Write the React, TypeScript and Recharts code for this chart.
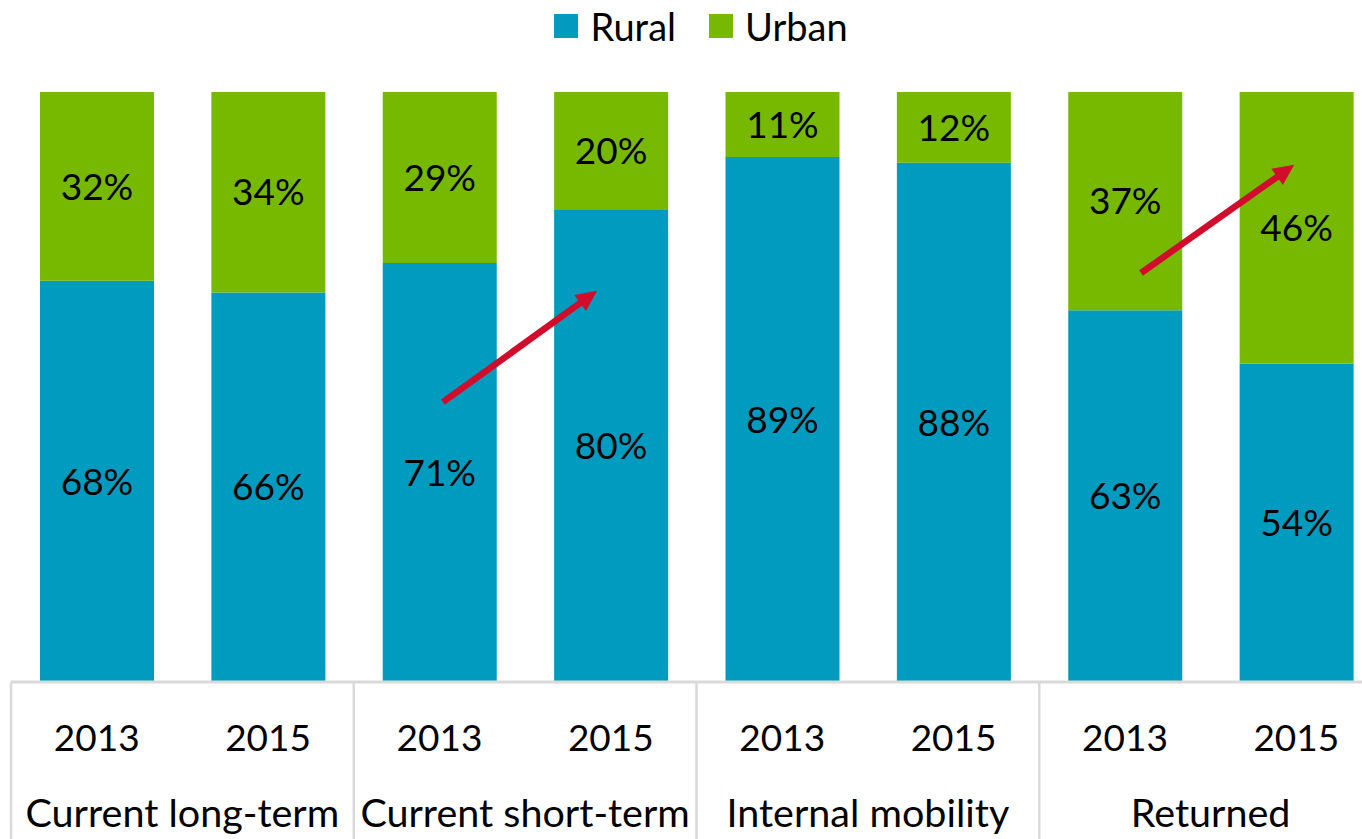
import { BarChart, Bar, XAxis, YAxis, Legend, LabelList, ReferenceLine } from "recharts"

const groups = ["Current long-term", "Current short-term", "Internal mobility", "Returned"]
const years = ["2013", "2015"]
const rural = [68, 66, 71, 80, 89, 88, 63, 54]
const urban = [32, 34, 29, 20, 11, 12, 37, 46]

const data = rural.map((r, i) => ({
  id: `${groups[Math.floor(i / 2)]} ${years[i % 2]}`,
  group: groups[Math.floor(i / 2)],
  year: years[i % 2],
  rural: r,
  urban: urban[i],
}))

// red trend arrows, in data space (category + percent)
const arrows = [
  { from: "Current short-term 2013", to: "Current short-term 2015", fromY: 47, toY: 68, trimStart: 0.02, trimEnd: 0.08 },
  { from: "Returned 2013", to: "Returned 2015", fromY: 67.4, toY: 87.9, trimStart: 0.094, trimEnd: 0.012 },
]

const BLUE = "#009BBE"
const GREEN = "#77B900"
const RED = "#D20C2B"
const GRID = "#D9D9D9"
const FONT = "Lato, 'Open Sans', sans-serif"

const W = 1400
const H = 839
const M = { top: 32, right: 18, left: 11, bottom: 0 }
const XAXIS_H = 157
const AXIS_Y = H - XAXIS_H
const BAND = (W - M.left - M.right) / data.length

function CategoryTick(props: any) {
  const { x, index } = props
  const d = data[index]
  return (
    <g>
      <text x={x} y={AXIS_Y + 69} textAnchor="middle" fontFamily={FONT} fontSize={37} fill="#000">
        {d.year}
      </text>
      {index % 2 === 0 && (
        <>
          <text x={x + BAND / 2} y={AXIS_Y + 145} textAnchor="middle" fontFamily={FONT} fontSize={39.5} fill="#000">
            {d.group}
          </text>
          <line x1={x - BAND / 2} x2={x - BAND / 2} y1={AXIS_Y} y2={H} stroke={GRID} strokeWidth={2.5} />
        </>
      )}
      {index === data.length - 1 && (
        <line x1={x + BAND / 2} x2={x + BAND / 2} y1={AXIS_Y} y2={H} stroke={GRID} strokeWidth={2.5} />
      )}
    </g>
  )
}

function Arrow(props: any) {
  const { x1, y1, x2, y2, trimStart, trimEnd } = props
  const dx = x2 - x1
  const dy = y2 - y1
  const sx = x1 + dx * trimStart
  const sy = y1 + dy * trimStart
  const tx = x1 + dx * (1 - trimEnd)
  const ty = y1 + dy * (1 - trimEnd)
  const len = Math.hypot(tx - sx, ty - sy)
  const ux = (tx - sx) / len
  const uy = (ty - sy) / len
  const head = 21
  const half = 10
  const bx = tx - ux * head
  const by = ty - uy * head
  return (
    <g>
      <line x1={sx} y1={sy} x2={bx + ux * 2} y2={by + uy * 2} stroke={RED} strokeWidth={6.5} />
      <polygon
        points={`${tx},${ty} ${bx - uy * half},${by + ux * half} ${bx + uy * half},${by - ux * half}`}
        fill={RED}
      />
    </g>
  )
}

const legendItems = [
  { label: "Rural", color: BLUE },
  { label: "Urban", color: GREEN },
]

function LegendContent() {
  return (
    <div
      style={{
        display: "flex",
        justifyContent: "center",
        alignItems: "center",
        height: 60,
        paddingLeft: 40,
        fontFamily: FONT,
        fontSize: 38,
        color: "#000",
        boxSizing: "border-box",
      }}
    >
      {legendItems.map((it, i) => (
        <div key={it.label} style={{ display: "flex", alignItems: "center", marginLeft: i ? 33 : 0 }}>
          <span style={{ width: 24, height: 24, background: it.color, display: "inline-block", marginRight: 12 }} />
          <span>{it.label}</span>
        </div>
      ))}
    </div>
  )
}

export default function App() {
  return (
    <div style={{ position: "absolute", left: 0, top: 0, width: 1362, height: H, overflow: "hidden", background: "#fff" }}>
      <BarChart width={W} height={H} data={data} margin={M}>
        <XAxis
          dataKey="id"
          height={XAXIS_H}
          interval={0}
          tickLine={false}
          axisLine={{ stroke: GRID, strokeWidth: 3 }}
          tick={<CategoryTick />}
        />
        <YAxis hide domain={[0, 100]} />
        <Legend
          verticalAlign="top"
          content={<LegendContent />}
          wrapperStyle={{ top: -4, left: 0, width: 1362 }}
        />
        <Bar dataKey="rural" name="Rural" stackId="a" fill={BLUE} barSize={114} isAnimationActive={false}>
          <LabelList dataKey="rural" position="center" formatter={(v: any) => `${v}%`} fill="#000" fontSize={37} fontFamily={FONT} />
        </Bar>
        <Bar dataKey="urban" name="Urban" stackId="a" fill={GREEN} barSize={114} isAnimationActive={false}>
          <LabelList dataKey="urban" position="center" formatter={(v: any) => `${v}%`} fill="#000" fontSize={37} fontFamily={FONT} />
        </Bar>
        {arrows.map((a) => (
          <ReferenceLine
            key={a.from}
            segment={[{ x: a.from, y: a.fromY }, { x: a.to, y: a.toY }]}
            ifOverflow="visible"
            shape={(p: any) => <Arrow {...p} trimStart={a.trimStart} trimEnd={a.trimEnd} />}
          />
        ))}
      </BarChart>
    </div>
  )
}
